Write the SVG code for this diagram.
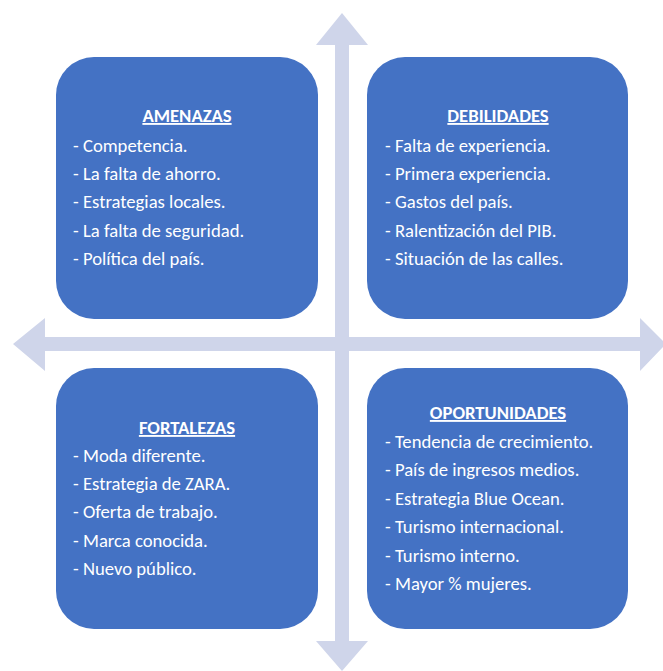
<svg xmlns="http://www.w3.org/2000/svg" width="663" height="671" viewBox="0 0 663 671">
<style>
.box{fill:#4472C4}
.arr{fill:#CFD5EA}
text{font-family:Carlito,Calibri,Lato,"Open Sans",sans-serif;font-size:18.67px;fill:#FFFFFF}
.t{font-weight:bold;text-anchor:middle;text-decoration:underline}
</style>
<rect width="663" height="671" fill="#FFFFFF"/>
<g id="connectors">
<path class="arr" d="M342,13 L368,45 L349,45 L349,641 L368,641 L342,671 L316,641 L335,641 L335,45 L316,45 Z"/>
<path class="arr" d="M13,344 L45,318 L45,337 L640,337 L640,318 L666,344 L640,371 L640,351 L45,351 L45,371 Z"/>
</g>
<g id="amenazas">
<rect class="box" x="56" y="57" width="262" height="262" rx="38"/>
<text class="t" x="187" y="122">AMENAZAS</text>
<text x="73" y="152">- Competencia.</text>
<text x="73" y="180">- La falta de ahorro.</text>
<text x="73" y="208">- Estrategias locales.</text>
<text x="73" y="237">- La falta de seguridad.</text>
<text x="73" y="265">- Política del país.</text>
</g>
<g id="debilidades">
<rect class="box" x="367" y="57" width="261" height="262" rx="38"/>
<text class="t" x="498" y="122">DEBILIDADES</text>
<text x="385" y="152">- Falta de experiencia.</text>
<text x="385" y="180">- Primera experiencia.</text>
<text x="385" y="208">- Gastos del país.</text>
<text x="385" y="237">- Ralentización del PIB.</text>
<text x="385" y="265">- Situación de las calles.</text>
</g>
<g id="fortalezas">
<rect class="box" x="56" y="368" width="262" height="261" rx="38"/>
<text class="t" x="187" y="434">FORTALEZAS</text>
<text x="73" y="462">- Moda diferente.</text>
<text x="73" y="490">- Estrategia de ZARA.</text>
<text x="73" y="518">- Oferta de trabajo.</text>
<text x="73" y="547">- Marca conocida.</text>
<text x="73" y="575">- Nuevo público.</text>
</g>
<g id="oportunidades">
<rect class="box" x="367" y="368" width="261" height="261" rx="38"/>
<text class="t" x="498" y="419">OPORTUNIDADES</text>
<text x="385" y="448">- Tendencia de crecimiento.</text>
<text x="385" y="476">- País de ingresos medios.</text>
<text x="385" y="505">- Estrategia Blue Ocean.</text>
<text x="385" y="533">- Turismo internacional.</text>
<text x="385" y="562">- Turismo interno.</text>
<text x="385" y="590">- Mayor % mujeres.</text>
</g>
</svg>
